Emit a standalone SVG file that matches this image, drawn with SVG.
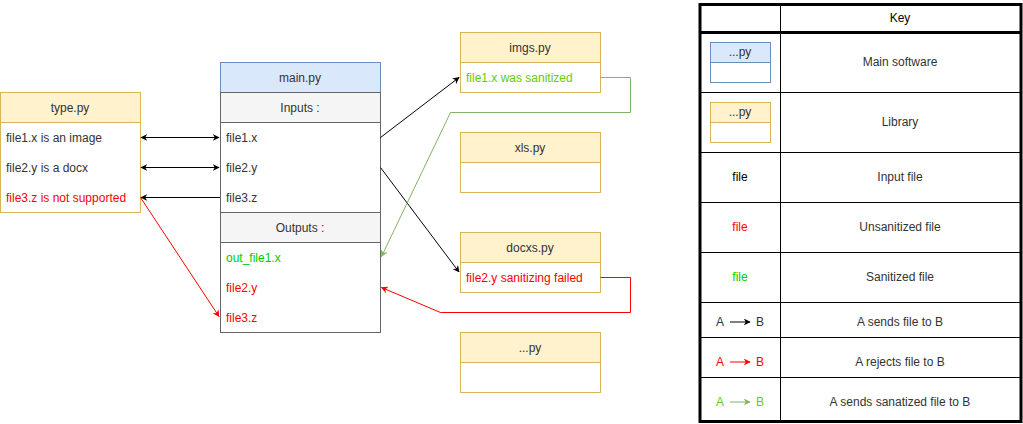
<svg xmlns="http://www.w3.org/2000/svg" width="1023" height="424" viewBox="0 0 1023 424">
<defs>
<marker id="ab" viewBox="0 0 10 10" refX="9" refY="5" markerWidth="7" markerHeight="7" orient="auto-start-reverse" markerUnits="userSpaceOnUse"><path d="M0,0 L10,5 L0,10 L3,5 Z" fill="#000"/></marker>
<marker id="ar" viewBox="0 0 10 10" refX="9" refY="5" markerWidth="7" markerHeight="7" orient="auto-start-reverse" markerUnits="userSpaceOnUse"><path d="M0,0 L10,5 L0,10 L3,5 Z" fill="#ff0000"/></marker>
<marker id="ag" viewBox="0 0 10 10" refX="9" refY="5" markerWidth="7" markerHeight="7" orient="auto-start-reverse" markerUnits="userSpaceOnUse"><path d="M0,0 L10,5 L0,10 L3,5 Z" fill="#82b366"/></marker>
</defs>
<style>
text{font-family:"Liberation Sans",Arial,sans-serif;font-size:12px;fill:#333;dominant-baseline:central}
.c{text-anchor:middle}
.red{fill:#ff0000}
.grn{fill:#00cc00}
.lgr{fill:#66cc00}
.blk{fill:#000}
.yh{fill:#fff2cc;stroke:#d6b656}
.yb{fill:#fff;stroke:#d6b656}
.bh{fill:#dae8fc;stroke:#6c8ebf}
.bb{fill:#fff;stroke:#666}
.gh{fill:#f5f5f5;stroke:#666}
.ln{fill:none;stroke:#000;stroke-width:1}
.tl{fill:none;stroke:#000;stroke-width:1}
</style>
<rect width="1023" height="424" fill="#fff"/>

<g id="type">
<rect class="yb" x="0.5" y="92.5" width="140" height="120"/>
<rect class="yh" x="0.5" y="92.5" width="140" height="30"/>
<text class="c" x="70" y="107.5">type.py</text>
<text x="6" y="137.5">file1.x is an image</text>
<text x="6" y="167.5">file2.y is a docx</text>
<text class="red" x="6" y="197.5">file3.z is not supported</text>
</g>

<g id="main">
<rect class="bb" x="220.5" y="62.5" width="160" height="270"/>
<rect class="bh" x="220.5" y="62.5" width="160" height="30"/>
<text class="c" x="300" y="77.5">main.py</text>
<rect class="gh" x="220.5" y="92.5" width="160" height="30"/>
<text class="c" x="300" y="107.5">Inputs :</text>
<text x="226" y="137.5">file1.x</text>
<text x="226" y="167.5">file2.y</text>
<text x="226" y="197.5">file3.z</text>
<rect class="gh" x="220.5" y="212.5" width="160" height="30"/>
<text class="c" x="300" y="227.5">Outputs :</text>
<text class="grn" x="226" y="257.5">out_file1.x</text>
<text class="red" x="226" y="287.5">file2.y</text>
<text class="red" x="226" y="317.5">file3.z</text>
</g>

<g id="imgs">
<rect class="yb" x="460.5" y="32.5" width="140" height="60"/>
<rect class="yh" x="460.5" y="32.5" width="140" height="30"/>
<text class="c" x="530" y="47.5">imgs.py</text>
<text class="lgr" x="466" y="77.5">file1.x was sanitized</text>
</g>

<g id="xls">
<rect class="yb" x="460.5" y="132.5" width="140" height="60"/>
<rect class="yh" x="460.5" y="132.5" width="140" height="30"/>
<text class="c" x="530" y="147.5">xls.py</text>
</g>

<g id="docxs">
<rect class="yb" x="460.5" y="232.5" width="140" height="60"/>
<rect class="yh" x="460.5" y="232.5" width="140" height="30"/>
<text class="c" x="530" y="247.5">docxs.py</text>
<text class="red" x="466" y="277.5">file2.y sanitizing failed</text>
</g>

<g id="etc">
<rect class="yb" x="460.5" y="332.5" width="140" height="60"/>
<rect class="yh" x="460.5" y="332.5" width="140" height="30"/>
<text class="c" x="530" y="347.5">...py</text>
</g>

<g id="connectors" fill="none">
<path d="M141,137.5 L219,137.5" stroke="#000" marker-start="url(#ab)" marker-end="url(#ab)"/>
<path d="M141,167.5 L219,167.5" stroke="#000" marker-start="url(#ab)" marker-end="url(#ab)"/>
<path d="M220,197.5 L141,197.5" stroke="#000" marker-end="url(#ab)"/>
<path d="M140.5,197.5 L219,316.5" stroke="#ff0000" marker-end="url(#ar)"/>
<path d="M380.5,137.5 L459,77.5" stroke="#000" marker-end="url(#ab)"/>
<path d="M380.5,167.5 L459,272" stroke="#000" marker-end="url(#ab)"/>
<path d="M600.5,77.5 L630.5,77.5 L630.5,112.5 L450.5,112.5 L381.5,256.5" stroke="#82b366" marker-end="url(#ag)"/>
<path d="M600.5,277.5 L630.5,277.5 L630.5,312.5 L440.5,312.5 L381.5,287.5" stroke="#ff0000" marker-end="url(#ar)"/>
</g>

<g id="key">
<rect x="700" y="4.5" width="321" height="417" fill="#fff" stroke="none"/>
<line class="tl" x1="780.5" y1="4" x2="780.5" y2="421"/>
<line class="tl" x1="700" y1="92.5" x2="1021" y2="92.5"/>
<line class="tl" x1="700" y1="152.5" x2="1021" y2="152.5"/>
<line class="tl" x1="700" y1="202.5" x2="1021" y2="202.5"/>
<line class="tl" x1="700" y1="252.5" x2="1021" y2="252.5"/>
<line class="tl" x1="700" y1="302.5" x2="1021" y2="302.5"/>
<line class="tl" x1="700" y1="337.5" x2="1021" y2="337.5"/>
<line class="tl" x1="700" y1="377.5" x2="1021" y2="377.5"/>
<line x1="700" y1="32.5" x2="1021" y2="32.5" stroke="#000" stroke-width="3"/>
<rect x="700" y="4.5" width="321" height="417" fill="none" stroke="#000" stroke-width="3"/>
<text class="c blk" x="900" y="17.5">Key</text>

<rect class="bb" x="710.5" y="42.5" width="60" height="40" style="stroke:#6c8ebf"/>
<rect class="bh" x="710.5" y="42.5" width="60" height="20"/>
<text class="c" x="740" y="52">...py</text>
<text class="c" x="900" y="62">Main software</text>

<rect class="yb" x="710.5" y="102.5" width="60" height="40"/>
<rect class="yh" x="710.5" y="102.5" width="60" height="20"/>
<text class="c" x="740" y="112">...py</text>
<text class="c" x="900" y="122">Library</text>

<text class="c blk" x="740" y="177">file</text>
<text class="c" x="900" y="177">Input file</text>
<text class="c red" x="740" y="227">file</text>
<text class="c" x="900" y="227">Unsanitized file</text>
<text class="c grn" x="740" y="277">file</text>
<text class="c" x="900" y="277">Sanitized file</text>

<text class="c" x="720" y="322">A</text>
<path d="M730,322 L750,322" stroke="#000" marker-end="url(#ab)"/>
<text class="c" x="760" y="322">B</text>
<text class="c" x="900" y="322">A sends file to B</text>

<text class="c red" x="720" y="362">A</text>
<path d="M730,362 L750,362" stroke="#ff0000" marker-end="url(#ar)"/>
<text class="c red" x="760" y="362">B</text>
<text class="c" x="900" y="362">A rejects file to B</text>

<text class="c lgr" x="720" y="402">A</text>
<path d="M730,402 L750,402" stroke="#82b366" marker-end="url(#ag)"/>
<text class="c lgr" x="760" y="402">B</text>
<text class="c" x="900" y="402">A sends sanatized file to B</text>
</g>
</svg>
